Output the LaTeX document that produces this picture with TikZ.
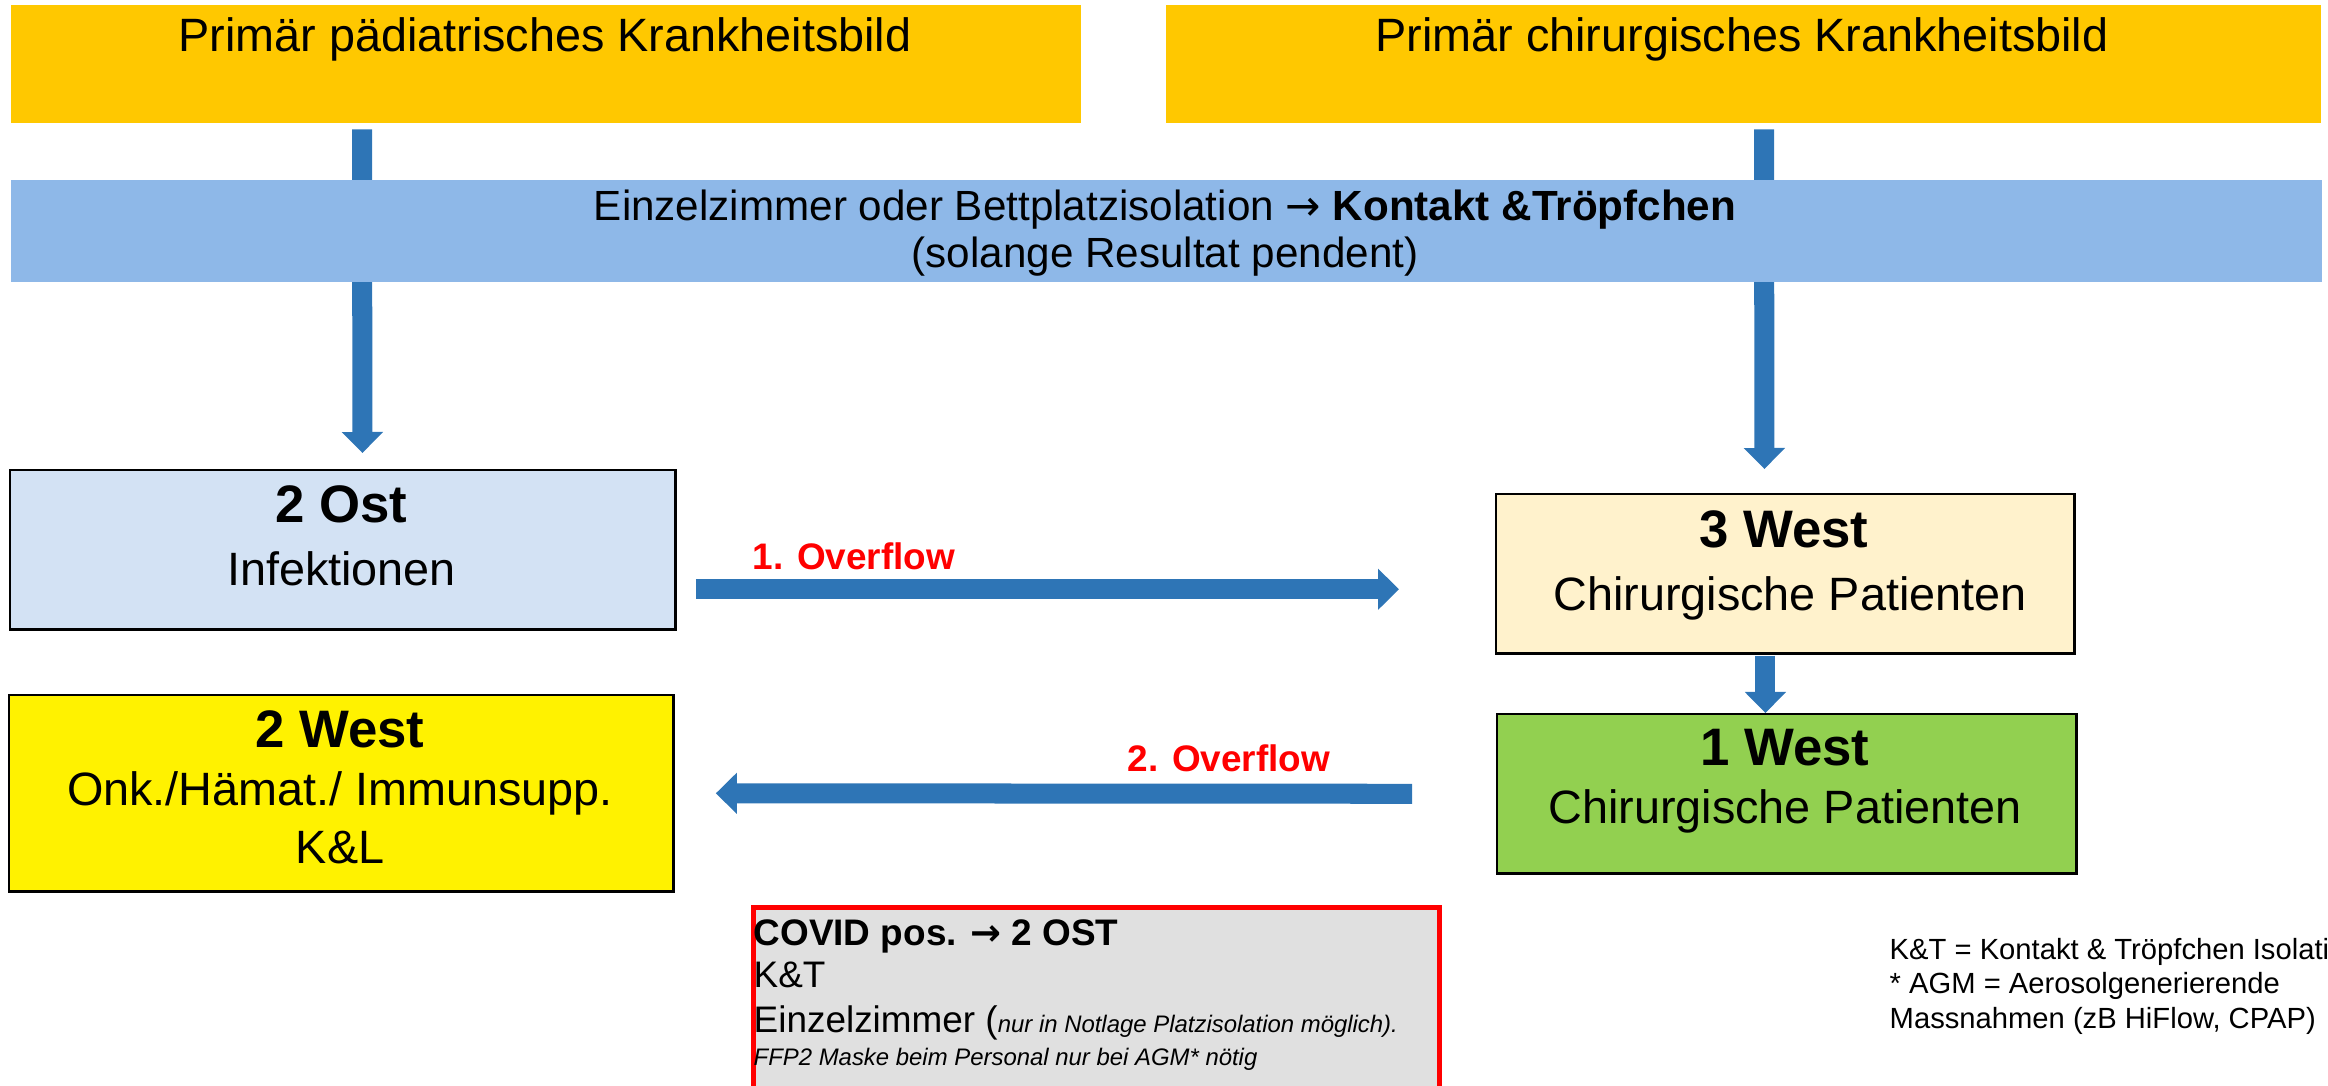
\documentclass[tikz,border=0pt]{standalone}
\usepackage{fontspec}
\setmainfont{Liberation Sans}
\newfontfamily\arrowfont{DejaVu Sans}
\usetikzlibrary{arrows.meta,calc}

\definecolor{padgold}{HTML}{FFC800}
\definecolor{bandblue}{HTML}{8EB8E8}
\definecolor{arrowblue}{HTML}{2E75B6}
\definecolor{ostblue}{HTML}{D3E2F4}
\definecolor{creme}{HTML}{FFF2CC}
\definecolor{chirgreen}{HTML}{92D050}
\definecolor{covidgray}{HTML}{E0E0E0}
\newcommand{\toarrow}{{\arrowfont →}}

\begin{document}
\begin{tikzpicture}[x=0.01cm, y=-0.01cm,
pad/.style={fill=padgold, anchor=north west, inner sep=0pt, minimum height=1.175cm},
ward/.style={draw=black, line width=0.7pt, anchor=north west, inner sep=0pt},
txt/.style={inner sep=0pt, anchor=base, font=\fontsize{13.3}{16}\selectfont},
head/.style={txt, font=\bfseries\fontsize{15}{18}\selectfont},
bandtxt/.style={txt, font=\fontsize{12}{14}\selectfont},
flow/.style={inner sep=0pt, anchor=base west, text=red, font=\bfseries\fontsize{10.5}{12}\selectfont},
note/.style={inner sep=0pt, anchor=base west, font=\fontsize{10.5}{12}\selectfont},
legend/.style={inner sep=0pt, anchor=base west, font=\fontsize{8.3}{10}\selectfont},
fat/.style={draw=arrowblue, line width=0.2cm, -{Triangle[width=0.4cm,length=0.21cm]}},
]
\useasboundingbox (0,0) rectangle (2328,1085);
\clip (0,0) rectangle (2328,1085);

\node[pad, minimum width=10.7cm] (pad1) at (10,4.5) {};
\node[pad, minimum width=11.55cm] (pad2) at (1165,4.5) {};

\node[ward, fill=ostblue, minimum width=6.65cm, minimum height=1.59cm] (ost) at (9,469) {};
\node[ward, fill=yellow, minimum width=6.64cm, minimum height=1.96cm] (west2) at (8,694) {};
\node[ward, fill=creme, minimum width=5.78cm, minimum height=1.59cm] (west3) at (1495,493) {};
\node[ward, fill=chirgreen, minimum width=5.79cm, minimum height=1.59cm] (west1) at (1496,713) {};

\draw[fat] ($(pad1.south)+(-184,6)$) -- ($(ost.north)+(19.5,-16)$);
\draw[fat] ($(pad2.south)+(20.5,6)$) -- ($(west3.north)+(-21,-24)$);
\draw[fat] ($(west3.south)+(-20,1)$) -- ($(west1.north)+(-21.5,0)$);
\draw[fat] ($(ost.east)+(19,39.5)$) -- ($(west3.west)+(-96,15.5)$);
\draw[fat] ($(west1.west)+(-84,0)$) -- ($(west2.east)+(41,0)$);

\node[fill=bandblue, anchor=north west, inner sep=0pt, minimum width=23.1cm, minimum height=1.02cm] (band) at (10,179) {};
\node[draw=red, line width=1.4pt, fill=covidgray, anchor=north west, inner sep=0pt, minimum width=6.86cm, minimum height=2.3cm] (covid) at (751,905) {};

\node[txt] (pad1t) at (545,52) {Primär pädiatrisches Krankheitsbild};
\node[txt] (pad2t) at (1742,52) {Primär chirurgisches Krankheitsbild};
\node[bandtxt] (banda) at (1165,220) {Einzelzimmer oder Bettplatzisolation \toarrow{} \textbf{Kontakt \&Tröpfchen}};
\node[bandtxt] (bandb) at (1165,268) {(solange Resultat pendent)};

\node[head] (osta) at (341.5,522) {2 Ost};
\node[txt] (ostb) at (341.5,585) {Infektionen};
\node[head] (west2a) at (340,747) {2 West};
\node[txt] (west2b) at (340,805) {Onk./Hämat./ Immunsupp.};
\node[txt] (west2c) at (340,863) {K\&L};
\node[head] (west3a) at (1784,547) {3 West};
\node[txt] (west3b) at (1790,610) {Chirurgische Patienten};
\node[head] (west1a) at (1785,765) {1 West};
\node[txt] (west1b) at (1785,823) {Chirurgische Patienten};

\node[flow] (flow1) at (752,569) {1. Overflow};
\node[flow] (flow2) at (1127,771) {2. Overflow};

\node[note, font=\bfseries\fontsize{10.5}{12}\selectfont] (covida) at (753,945) {COVID pos. \toarrow{} 2 OST};
\node[note] (covidb) at (753,987) {K\&T};
\node[note] (covidc) at (753,1032) {Einzelzimmer (\itshape\fontsize{6.8}{8}\selectfont nur in Notlage Platzisolation möglich).};
\node[note, font=\itshape\fontsize{6.8}{8}\selectfont] (covidd) at (753,1065) {FFP2 Maske beim Personal nur bei AGM* nötig};

\node[legend] (lega) at (1889,959) {K\&T = Kontakt \& Tröpfchen Isolation};
\node[legend] (legb) at (1889,993) {* AGM = Aerosolgenerierende};
\node[legend] (legc) at (1889,1028) {Massnahmen (zB HiFlow, CPAP)};
\end{tikzpicture}
\end{document}
